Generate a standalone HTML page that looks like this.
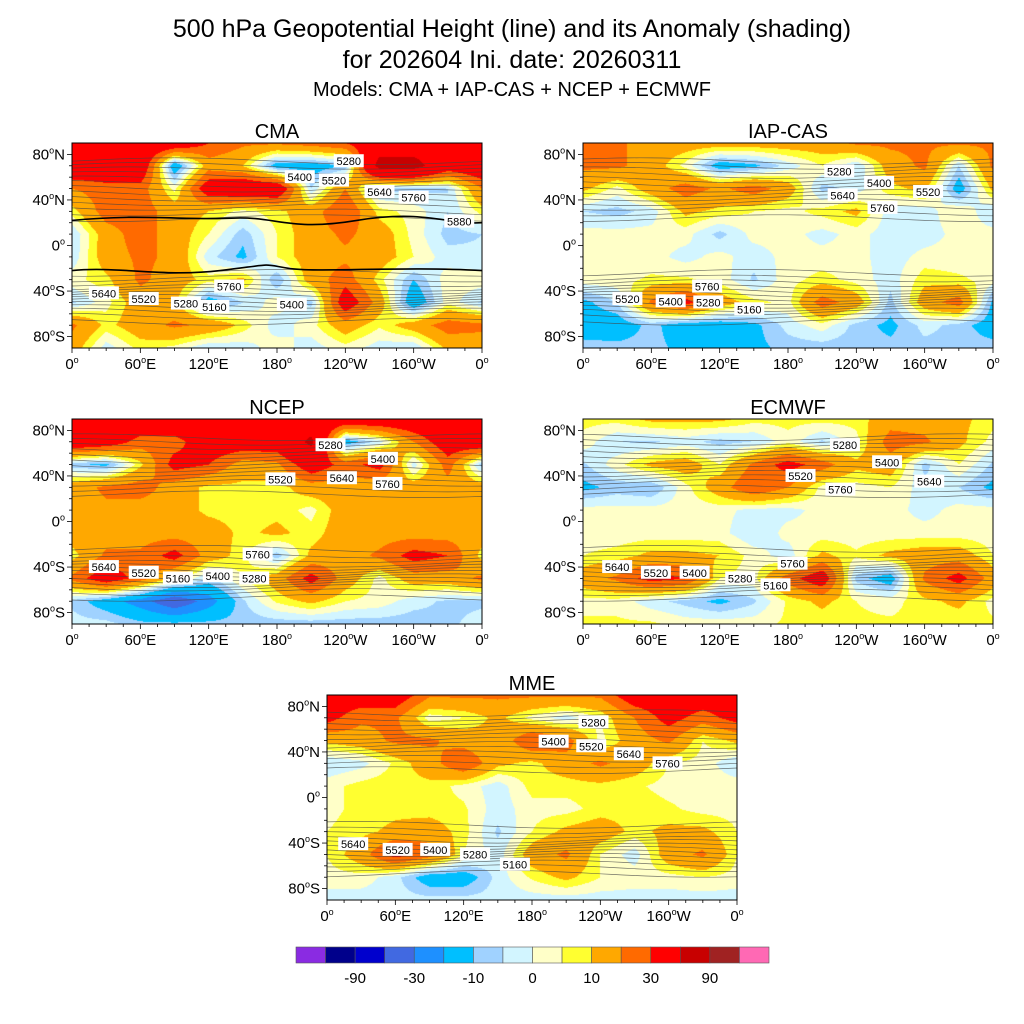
<!DOCTYPE html>
<html><head><meta charset="utf-8"><style>
body{margin:0;background:#fff;font-family:"Liberation Sans",sans-serif;}
#root{position:relative;width:1024px;height:1024px;overflow:hidden;background:#fff;}
.t{position:absolute;left:0;width:1024px;text-align:center;color:#000;white-space:nowrap;}
</style></head><body>
<div id="root">
<div class="t" style="top:15px;font-size:25px">500 hPa Geopotential Height (line) and its Anomaly (shading)</div>
<div class="t" style="top:46px;font-size:25px">for 202604 Ini. date: 20260311</div>
<div class="t" style="top:79px;font-size:20px">Models: CMA + IAP-CAS + NCEP + ECMWF</div>
<svg id="svg" width="1024" height="1024" style="position:absolute;left:0;top:0"></svg>
</div>
<script>
const levels = [-120,-90,-60,-30,-20,-10,-5,0,5,10,20,30,60,90,120];
const colors = ["#8a2be2","#00008b","#0000cd","#4169e1","#1e90ff","#00bfff","#a0d2ff","#d2f5ff","#ffffc8","#ffff30","#ffa800","#ff6a00","#ff0000","#c80000","#a02222","#ff69b4"];
const levelLabels = ["-90","-30","-10","0","10","30","90"];
const lonNodes = [0,30,60,90,120,150,180,210,240,270,300,330];
const latNodes = [90,70,50,30,10,-10,-30,-50,-70,-90];
const cma = [
[45,45,45,45,30,22,22,25,30,45,45,45],
[45,45,45,-18,15,10,-15,-15,-10,70,70,40],
[20,25,25,3,40,45,45,-5,20,-7,-7,-5],
[7,25,25,15,10,3,8,15,30,7,3,-5],
[-5,15,25,15,5,-8,5,15,22,15,3,-7],
[-4,15,22,18,-3,-12,5,15,18,15,5,-3],
[3,8,22,15,7,12,-10,15,25,7,-10,3],
[-6,3,15,12,-15,-5,3,-7,40,15,-18,3],
[22,8,15,22,18,8,-3,3,15,6,15,25],
[15,-3,7,3,-5,-3,3,-3,3,-3,-5,12]];
const iap = [
[22,22,15,15,15,15,15,15,22,22,22,22],
[22,22,15,3,-15,-12,-3,5,-5,15,22,-5],
[12,3,15,25,18,25,15,-7,-3,8,12,-15],
[-5,-7,-3,12,8,5,3,7,12,-3,-3,5],
[2,2,2,2,-7,2,2,-2,2,-3,-3,2],
[2,2,2,-2,2,-3,2,2,2,-3,2,2],
[3,3,6,6,3,-6,3,7,3,-3,8,6],
[-12,-5,22,35,15,7,3,25,15,-7,15,25],
[-15,-15,-8,-15,-15,-12,-3,3,-7,-12,-3,-7],
[-7,-8,-8,-12,-12,-12,-8,-8,-8,-8,-7,-7]];
const ncep = [
[45,45,45,45,45,45,45,45,45,45,45,45],
[45,40,25,25,40,40,40,65,-15,-3,20,40],
[-8,-12,8,35,30,15,18,40,25,35,-3,25],
[15,22,25,15,8,8,7,15,15,12,15,15],
[15,18,15,15,8,7,8,3,15,15,18,15],
[15,15,15,15,15,8,12,7,15,15,15,15],
[7,22,22,35,15,7,-8,12,15,22,35,30],
[22,40,25,8,-6,5,15,35,15,3,15,15],
[-6,-15,-25,-40,-25,-6,6,12,5,3,-3,-6],
[-3,-3,-8,-8,-8,-8,-8,-8,-8,-8,-8,-6]];
const ecmwf = [
[7,7,12,12,12,7,7,7,7,15,15,12],
[3,-5,-6,-3,-7,-5,3,-6,3,25,22,12],
[-6,3,12,15,5,22,35,25,12,15,-7,5],
[-12,-8,-10,3,15,30,20,3,3,5,-3,-5],
[2,2,2,2,2,-2,-2,2,2,2,-2,2],
[2,2,2,2,2,-5,2,2,2,2,2,2],
[5,7,12,12,10,3,-3,12,6,12,15,15],
[15,22,35,30,5,3,25,40,-7,-15,22,35],
[3,3,-3,-7,-12,-6,6,12,5,3,8,12],
[6,6,6,3,3,3,6,6,6,6,6,6]];
const mme = [
[40,40,40,22,22,22,22,22,22,40,40,40],
[35,22,22,2,5,12,3,-3,5,20,35,25],
[12,15,22,22,15,12,30,25,3,15,22,5],
[-5,-2,6,15,30,12,8,15,22,15,5,3],
[3,7,8,8,3,-3,7,7,8,6,3,3],
[3,7,8,7,6,-3,3,3,7,8,6,3],
[5,8,12,15,7,-6,5,12,15,8,12,12],
[5,15,35,25,5,-3,15,22,5,-3,15,22],
[3,3,-3,-15,-15,-3,6,12,5,3,3,5],
[-3,-3,-3,-3,-3,-3,-3,-3,-3,-3,-3,-3]];
const panelNames = ["CMA","IAP-CAS","NCEP","ECMWF","MME"];
const panelData = [cma,iap,ncep,ecmwf,mme];
const labelsCMA = [["5280",243,74],["5400",200,60],["5520",230,57],["5640",270,47],["5760",300,42],["5880",340,21],["5640",28,-42],["5520",63,-47],["5280",100,-51],["5160",125,-54],["5760",138,-36],["5400",193,-52]];
const labelsIAP = [["5280",225,65],["5400",260,55],["5520",303,47],["5640",228,44],["5760",263,33],["5760",109,-36],["5520",39,-47],["5400",77,-49],["5280",110,-50],["5160",146,-56]];
const labelsNCEP = [["5280",227,67],["5400",273,55],["5520",183,37],["5640",237,38],["5760",277,33],["5640",28,-40],["5520",63,-45],["5160",93,-50],["5400",128,-48],["5280",160,-50],["5760",163,-29]];
const labelsECMWF = [["5280",230,67],["5400",267,52],["5520",191,40],["5640",304,35],["5760",226,28],["5760",184,-37],["5640",30,-40],["5520",64,-45],["5400",98,-45],["5280",138,-50],["5160",169,-56]];
const labelsMME = [["5280",234,66],["5400",199,49],["5520",232,45],["5640",265,38],["5760",299,30],["5640",23,-41],["5520",62,-46],["5400",95,-46],["5280",130,-50],["5160",165,-59]];
const panelLabels = [labelsCMA,labelsIAP,labelsNCEP,labelsECMWF,labelsMME];
const latTicks = ["80|N","40|N","0|","40|S","80|S"];
const latTickVals = [80,40,0,-40,-80];
const lonTicks = ["0|","60|E","120|E","180|","120|W","160|W","0|"];
const lonTickVals = [0,60,120,180,240,300,360];

const PW=410, PH=205;
const pos = [[72,143],[583,143],[72,419],[583,419],[327,695]];
const NS="http://www.w3.org/2000/svg";
const svg=document.getElementById('svg');
function el(tag,attrs,parent){const e=document.createElementNS(NS,tag);for(const k in attrs)e.setAttribute(k,attrs[k]);(parent||svg).appendChild(e);return e;}
function hex(c){return [parseInt(c.slice(1,3),16),parseInt(c.slice(3,5),16),parseInt(c.slice(5,7),16)];}
const rgb=colors.map(hex);
function sample(g,lon,lat){
  const fx=lon/30; let i0=Math.floor(fx)%12; const tx=fx-Math.floor(fx); const i1=(i0+1)%12;
  const fy=(90-lat)/20; let j0=Math.min(8,Math.floor(fy)); const ty=fy-j0; const j1=j0+1;
  const a=g[j0][i0]*(1-tx)+g[j0][i1]*tx, b=g[j1][i0]*(1-tx)+g[j1][i1]*tx;
  return a*(1-ty)+b*ty;
}
function degText(parent,x,y,str,anchor){
  const [n,h]=str.split('|');
  const tx=el('text',{x,y,'font-size':15,'text-anchor':anchor,'font-family':'Liberation Sans, sans-serif'},parent);
  const a=el('tspan',{},tx);a.textContent=n;
  const b=el('tspan',{'font-size':9,dy:-6},tx);b.textContent='o';
  const c=el('tspan',{dy:6},tx);c.textContent=h||'';
  return tx;
}
panelData.forEach((g,p)=>{
  const [x0,y0]=pos[p];
  const xs=lon=>x0+lon/360*PW, ys=lat=>y0+(90-lat)/180*PH;
  const grp=el('g',{});
  
  
  const c=document.createElement('canvas');c.width=PW;c.height=PH;
  const ctx=c.getContext('2d');const im=ctx.createImageData(PW,PH);
  for(let y=0;y<PH;y++){const lat=90-(y+0.5)/PH*180;
    for(let x=0;x<PW;x++){const lon=(x+0.5)/PW*360;const v=sample(g,lon,lat);
      let k=0;while(k<levels.length&&v>=levels[k])k++;const cc=rgb[k];const o=(y*PW+x)*4;
      im.data[o]=cc[0];im.data[o+1]=cc[1];im.data[o+2]=cc[2];im.data[o+3]=255;}}
  ctx.putImageData(im,0,0);
  const img=el('image',{x:x0,y:y0,width:PW,height:PH,href:c.toDataURL()},grp);
  
  
  const lines=el('g',{stroke:'#444','stroke-width':0.7,fill:'none',opacity:0.75},grp);
  
  
  const latsN=[74,70,66,62,58,54,50,46,42,38,34,29,24], latsS=[-24,-29,-33,-37,-40,-43,-46,-49,-52,-55,-58,-62,-67];
  latsN.concat(latsS).forEach((la,k)=>{let d='';for(let lon=0;lon<=360;lon+=10){const w=la+3*Math.sin((lon+k*20+p*40)*Math.PI/180);d+=(lon?'L':'M')+xs(lon).toFixed(1)+','+ys(w).toFixed(1);}el('path',{d},lines);});
  if(p===0){
    const thick=el('g',{stroke:'#000','stroke-width':1.6,fill:'none'},grp);
    
    
    el('path',{d:`M${xs(0)},${ys(22)} C${xs(60)},${ys(28)} ${xs(100)},${ys(22)} ${xs(140)},${ys(24)} S${xs(190)},${ys(12)} ${xs(250)},${ys(22)} S${xs(330)},${ys(18)} ${xs(360)},${ys(20)}`},thick);
    el('path',{d:`M${xs(0)},${ys(-22)} C${xs(40)},${ys(-18)} ${xs(80)},${ys(-28)} ${xs(130)},${ys(-22)} S${xs(165)},${ys(-16)} ${xs(190)},${ys(-20)} S${xs(290)},${ys(-18)} ${xs(360)},${ys(-22)}`},thick);
  }
  panelLabels[p].forEach(([t,lo,la])=>{
    const lg=el('g',{},grp);
    
    
    el('rect',{x:xs(lo)-15,y:ys(la)-7,width:30,height:13,fill:'#fff'},lg);
    const tx=el('text',{x:xs(lo),y:ys(la)+4,'font-size':11,'text-anchor':'middle','font-family':'Liberation Sans, sans-serif'},lg);tx.textContent=t;
  });
  const fr=el('rect',{x:x0,y:y0,width:PW,height:PH,fill:'none',stroke:'#000','stroke-width':1},grp);
  
  
  for(let la=-80;la<=80;la+=10){const maj=la%40===0;el('line',{x1:x0-(maj?5:3),x2:x0,y1:ys(la),y2:ys(la),stroke:'#000','stroke-width':0.8},grp);}
  for(let lo=0;lo<=360;lo+=15){const maj=lo%60===0;el('line',{x1:xs(lo),x2:xs(lo),y1:y0+PH,y2:y0+PH+(maj?5:3),stroke:'#000','stroke-width':0.8},grp);}
  latTicks.forEach((t,k)=>{const tx=degText(grp,x0-7,ys(latTickVals[k])+5,t,'end');
    
    });
  lonTicks.forEach((t,k)=>{const tx=degText(grp,xs(lonTickVals[k]),y0+PH+21,t,'middle');
    
    });
  const ti=el('text',{x:x0+PW/2,y:y0-5,'font-size':20,'text-anchor':'middle','font-family':'Liberation Sans, sans-serif'},grp);ti.textContent=panelNames[p];
  
  
});
const cb=el('g',{});


const cbx=296,cby=947,cbw=473,cbh=16,bw=cbw/colors.length;
colors.forEach((c,i)=>{const r=el('rect',{x:cbx+i*bw,y:cby,width:bw,height:cbh,fill:c,stroke:'#555','stroke-width':0.6},cb);
  
  });
levelLabels.forEach((t,k)=>{const idx=levels.indexOf(Number(t))+1;const tx=el('text',{x:cbx+idx*bw,y:cby+cbh+20,'font-size':15,'text-anchor':'middle','font-family':'Liberation Sans, sans-serif'},cb);tx.textContent=t;
  
  });
</script>
</body></html>
